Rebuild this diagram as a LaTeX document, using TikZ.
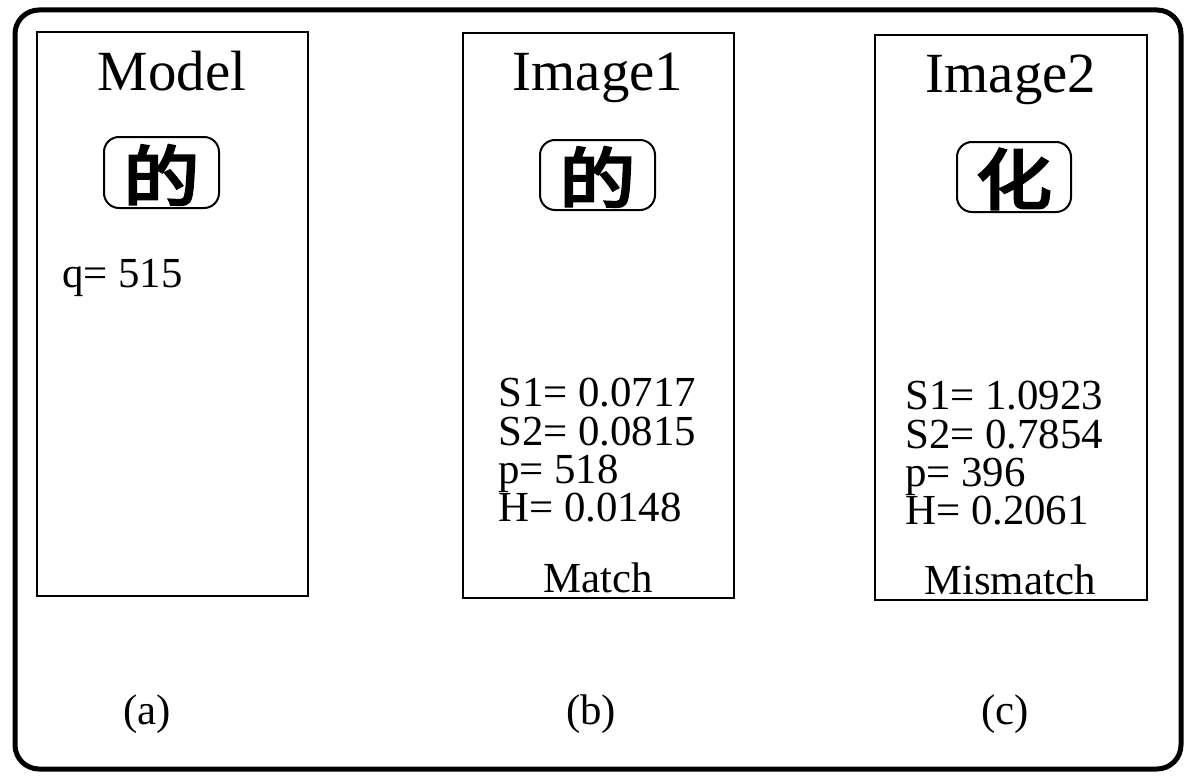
\documentclass[tikz,border=0pt]{standalone}
\usepackage{fontspec}
\setmainfont{Liberation Serif}
\newfontfamily\cjk[FakeBold=4]{Noto Sans CJK SC}
\begin{document}
\begin{tikzpicture}[x=1bp,y=-1bp,
  frame/.style={draw,line width=5bp,rounded corners=24bp},
  panel/.style={draw,line width=2.2bp},
  glyphbox/.style={draw,line width=2bp,rounded corners=15bp},
  title/.style={font=\fontsize{57}{57}\selectfont,inner sep=0pt,anchor=base},
  glyph/.style={font=\cjk\fontsize{66}{66}\selectfont,inner sep=0pt,xscale=1.15},
  val/.style={font=\fontsize{43}{43}\selectfont,inner sep=0pt,anchor=base west},
  verdict/.style={font=\fontsize{43}{43}\selectfont,inner sep=0pt},
  caption/.style={font=\fontsize{43}{43}\selectfont,inner sep=0pt}]
\useasboundingbox (0,0) rectangle (1187,776);
% outer frame
\draw[frame] (15,10) rectangle (1181,769);
% three panels
\draw[panel] (37,32) rectangle (308,596);
\draw[panel] (463,33) rectangle (734,598);
\draw[panel] (875,35) rectangle (1147,600);
% titles
\node[title] (ta) at (172,91) {Model};
\node[title] (tb) at (598,91) {Image1};
\node[title] (tc) at (1011,93) {Image2};
% character boxes
\draw[glyphbox] (104,137) rectangle (219,208);
\draw[glyphbox] (540,140) rectangle (655,210);
\draw[glyphbox] (957,142) rectangle (1071,212);
\node[glyph] (ca) at (161.5,175) {的};
\node[glyph] (cb) at (597.5,177) {的};
\node[glyph] (cc) at (1014,179) {化};
% values
\node[val] (qa) at (62,287) {q= 515};
\node[val] (b1) at (498,406) {S1= 0.0717};
\node[val] (b2) at (498,445) {S2= 0.0815};
\node[val] (b3) at (498,483) {p= 518};
\node[val] (b4) at (498,521) {H= 0.0148};
\node[val] (c1) at (905,409) {S1= 1.0923};
\node[val] (c2) at (905,448) {S2= 0.7854};
\node[val] (c3) at (905,486) {p= 396};
\node[val] (c4) at (905,524) {H= 0.2061};
\node[verdict] (mb) at (598,578) {Match};
\node[verdict] (mc) at (1010,580) {Mismatch};
% captions
\node[caption] (la) at (147,714) {(a)};
\node[caption] (lb) at (591,714) {(b)};
\node[caption] (lc) at (1005,714) {(c)};
\end{tikzpicture}
\end{document}
